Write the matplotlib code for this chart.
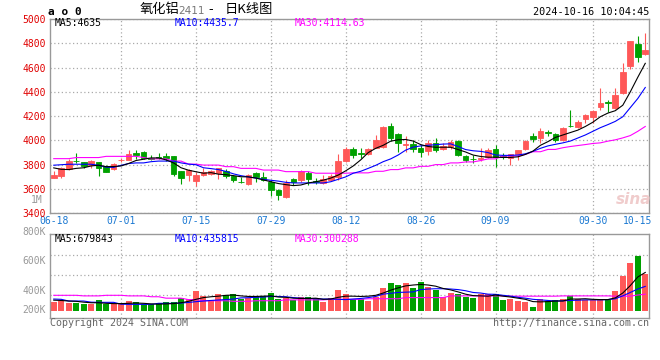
import matplotlib
matplotlib.use('Agg')
import matplotlib.pyplot as plt
import numpy as np

# ---- data (氧化铝2411 daily K) ----
dates = ['06-18', '06-19', '06-20', '06-21', '06-24', '06-25', '06-26', '06-27', '06-28',
         '07-01', '07-02', '07-03', '07-04', '07-05', '07-08', '07-09', '07-10', '07-11', '07-12',
         '07-15', '07-16', '07-17', '07-18', '07-19', '07-22', '07-23', '07-24', '07-25', '07-26',
         '07-29', '07-30', '07-31', '08-01', '08-02', '08-05', '08-06', '08-07', '08-08', '08-09',
         '08-12', '08-13', '08-14', '08-15', '08-16', '08-19', '08-20', '08-21', '08-22', '08-23',
         '08-26', '08-27', '08-28', '08-29', '08-30', '09-02', '09-03', '09-04', '09-05', '09-06',
         '09-09', '09-10', '09-11', '09-12', '09-13', '09-18', '09-19', '09-20',
         '09-23', '09-24', '09-25', '09-26', '09-27', '09-30',
         '10-08', '10-09', '10-10', '10-11', '10-14', '10-15', '10-16']

opens = [3693, 3709, 3766, 3832, 3820, 3796, 3820, 3793, 3761, 3838,
         3842, 3899, 3902, 3852, 3862, 3869, 3870, 3747, 3714, 3668,
         3717, 3725, 3733, 3747, 3709, 3660, 3641, 3731, 3702, 3660,
         3592, 3537, 3684, 3673, 3733, 3667, 3646, 3673, 3701, 3830,
         3931, 3895, 3885, 3940, 3948, 4118, 4049, 3963, 3970, 3934,
         3915, 3975, 3926, 3948, 3997, 3871, 3850, 3848, 3866, 3928,
         3870, 3852, 3887, 3926, 4038, 4022, 4068, 4052, 4003, 4120,
         4112, 4175, 4194, 4277, 4320, 4265, 4387, 4613, 4795, 4713]
highs = [3750, 3780, 3845, 3895, 3826, 3842, 3825, 3800, 3812, 3855,
         3918, 3921, 3910, 3880, 3895, 3898, 3875, 3752, 3762, 3740,
         3770, 3760, 3775, 3765, 3715, 3700, 3720, 3742, 3742, 3674,
         3600, 3674, 3692, 3760, 3747, 3690, 3714, 3727, 3891, 3945,
         3948, 3934, 3934, 4044, 4118, 4145, 4058, 4036, 4003, 3962,
         4003, 4016, 3975, 4003, 4003, 3880, 3880, 3934, 3934, 3961,
         3893, 3890, 3925, 4003, 4058, 4099, 4090, 4058, 4112, 4250,
         4167, 4215, 4250, 4428, 4333, 4428, 4637, 4822, 4862, 4884]
lows = [3687, 3687, 3760, 3815, 3769, 3777, 3709, 3738, 3755, 3825,
        3838, 3850, 3845, 3840, 3845, 3832, 3709, 3644, 3666, 3625,
        3706, 3715, 3679, 3687, 3655, 3652, 3636, 3660, 3662, 3543,
        3510, 3524, 3633, 3660, 3633, 3640, 3640, 3665, 3673, 3820,
        3857, 3852, 3880, 3935, 3940, 3997, 3907, 3907, 3907, 3866,
        3880, 3907, 3920, 3930, 3871, 3825, 3811, 3830, 3855, 3784,
        3850, 3797, 3838, 3920, 3989, 3975, 4038, 3989, 3997, 4112,
        4105, 4145, 4145, 4252, 4238, 4260, 4380, 4591, 4645, 4700]
closes = [3714, 3774, 3829, 3828, 3790, 3829, 3774, 3742, 3804, 3842,
          3891, 3878, 3852, 3848, 3858, 3855, 3722, 3693, 3758, 3714,
          3744, 3750, 3769, 3709, 3676, 3655, 3714, 3701, 3675, 3592,
          3552, 3652, 3657, 3752, 3682, 3660, 3679, 3706, 3831, 3932,
          3879, 3890, 3926, 4003, 4112, 4016, 3975, 3968, 3926, 3907,
          3975, 3921, 3956, 3989, 3880, 3838, 3846, 3852, 3920, 3866,
          3866, 3885, 3920, 3997, 4008, 4077, 4064, 4003, 4104, 4118,
          4153, 4208, 4241, 4310, 4306, 4374, 4564, 4822, 4686, 4746]

ma5 = [3774, 3762, 3760, 3770, 3775, 3790, 3796, 3784, 3785, 3790,
       3810, 3835, 3845, 3856, 3856, 3840, 3815, 3775, 3755, 3742,
       3730, 3735, 3722, 3718, 3710, 3701, 3700, 3690, 3675, 3660,
       3645, 3636, 3628, 3633, 3650, 3660, 3673, 3690, 3715, 3750,
       3790, 3840, 3900, 3935, 3960, 3994, 4005, 4008, 3995, 3966,
       3950, 3944, 3944, 3944, 3925, 3905, 3880, 3868, 3862, 3862,
       3860, 3860, 3865, 3885, 3912, 3960, 3990, 4025, 4045, 4065,
       4085, 4115, 4150, 4195, 4225, 4245, 4290, 4400, 4520, 4635]
ma10 = [3796, 3800, 3804, 3804, 3804, 3804, 3795, 3780, 3778, 3795,
        3810, 3815, 3815, 3825, 3830, 3830, 3830, 3815, 3805, 3800,
        3775, 3768, 3760, 3745, 3725, 3710, 3700, 3690, 3680, 3672,
        3665, 3655, 3650, 3650, 3650, 3650, 3650, 3660, 3680, 3700,
        3730, 3746, 3770, 3795, 3825, 3848, 3880, 3920, 3945, 3955,
        3960, 3965, 3970, 3972, 3950, 3925, 3915, 3910, 3900, 3880,
        3877, 3877, 3880, 3890, 3910, 3935, 3955, 3968, 3980, 3995,
        4020, 4045, 4075, 4105, 4130, 4157, 4195, 4270, 4345, 4436]
ma30 = [3850, 3850, 3850, 3859, 3859, 3859, 3859, 3869, 3869, 3869,
        3869, 3869, 3859, 3848, 3848, 3848, 3830, 3830, 3805, 3805,
        3797, 3797, 3797, 3784, 3784, 3770, 3770, 3770, 3756, 3756,
        3756, 3743, 3743, 3743, 3743, 3730, 3730, 3730, 3730, 3730,
        3733, 3733, 3733, 3746, 3746, 3760, 3760, 3774, 3774, 3787,
        3787, 3801, 3801, 3815, 3815, 3823, 3823, 3834, 3848, 3848,
        3872, 3872, 3872, 3885, 3907, 3907, 3926, 3926, 3940, 3950,
        3958, 3966, 3975, 3980, 3994, 4005, 4021, 4040, 4075, 4115]

# volume in thousands
volume = [157, 180, 146, 152, 134, 128, 192, 128, 128, 122,
          180, 163, 122, 122, 140, 163, 163, 233, 215, 355,
          268, 192, 303, 285, 303, 215, 239, 268, 268, 320,
          215, 239, 192, 250, 250, 227, 163, 227, 373, 303,
          215, 215, 186, 256, 413, 501, 460, 501, 413, 518,
          431, 373, 256, 315, 303, 256, 239, 309, 309, 303,
          198, 215, 180, 169, 75, 210, 180, 200, 215, 270,
          215, 200, 200, 210, 200, 360, 620, 840, 960, 650]
vma5 = [195, 190, 180, 175, 160, 150, 150, 140, 135, 135,
        140, 145, 140, 130, 125, 130, 135, 150, 175, 210,
        240, 255, 265, 280, 285, 270, 260, 260, 265, 270,
        250, 245, 230, 225, 225, 230, 210, 215, 245, 265,
        265, 260, 265, 280, 320, 370, 410, 445, 460, 470,
        460, 440, 400, 375, 340, 300, 275, 270, 265, 285,
        265, 250, 230, 210, 170, 165, 170, 180, 180, 215,
        215, 220, 210, 205, 205, 235, 320, 450, 600, 680]
vma10 = [215, 210, 180, 180, 180, 160, 157, 157, 157, 125,
         122, 122, 122, 122, 140, 140, 140, 145, 155, 169,
         180, 190, 198, 205, 215, 235, 238, 245, 250, 260,
         260, 255, 240, 230, 225, 220, 215, 215, 210, 205,
         215, 225, 240, 260, 300, 315, 330, 335, 340, 380,
         390, 395, 395, 390, 380, 360, 330, 320, 300, 297,
         280, 265, 245, 230, 210, 200, 190, 180, 185, 190,
         195, 200, 200, 200, 205, 220, 270, 330, 390, 436]
vma30 = [280, 280, 280, 280, 270, 270, 270, 280, 280, 280,
         270, 270, 270, 255, 255, 230, 230, 230, 205, 205,
         185, 185, 185, 185, 175, 175, 175, 185, 185, 185,
         185, 200, 200, 200, 200, 200, 200, 210, 210, 210,
         210, 210, 220, 220, 220, 220, 220, 240, 240, 240,
         240, 240, 240, 270, 270, 270, 270, 270, 270, 270,
         270, 265, 265, 265, 265, 265, 265, 265, 270, 270,
         270, 270, 270, 270, 270, 265, 265, 265, 285, 300]

grid_dates = ['07-01', '07-15', '07-29', '08-12', '08-26', '09-09', '09-30']
edge_dates = ['06-18', '10-15']
price_ticks = [3400, 3600, 3800, 4000, 4200, 4400, 4600, 4800, 5000]
vol_labels = ['800K', '600K', '400K', '200K']
vol_label_y = [1393, 886, 361, 23]     # where sina prints them (K)
vol_grid = [285, 635, 985]

RED = '#ff5858'
GREEN = '#00a000'
BLUE_TXT = '#1a78d2'
GRAY = '#999999'
MONO = 'DejaVu Sans Mono'

x = np.arange(len(dates))
o = np.array(opens); c = np.array(closes)
colors = np.where(c >= o, RED, GREEN)

fig = plt.figure(figsize=(6.6, 3.6), dpi=100)
W, H = 660, 360
ax = fig.add_axes([50 / W, 1 - 213.3 / H, 599 / W, 194.3 / H])
axv = fig.add_axes([50 / W, 1 - 318.3 / H, 599 / W, 84 / H])

for a in (ax, axv):
    for s in a.spines.values():
        s.set_color(GRAY)
        s.set_linewidth(1)
    a.set_xlim(-0.5, len(dates) - 0.5)
    a.set_xticks([dates.index(d) for d in grid_dates])
    a.set_xticks([dates.index(d) for d in edge_dates], minor=True)
    a.grid(axis='x', which='major', color='#aaaaaa', linestyle=(0, (1, 2)), lw=0.9)
    a.grid(axis='y', color='#aaaaaa', linestyle=(0, (1, 2)), lw=0.9)
    a.tick_params(which='both', length=0)
    a.set_axisbelow(True)

# ---- candles ----
ax.vlines(x, lows, highs, color=colors, lw=0.8, zorder=2)
ax.bar(x, np.abs(c - o), bottom=np.minimum(o, c), width=0.75, color=colors,
       edgecolor=colors, linewidth=0.6, zorder=3)
ax.plot(x, ma30, color='#ff00ff', lw=0.8, zorder=4)
ax.plot(x, ma10, color='#0000ff', lw=0.8, zorder=4)
ax.plot(x, ma5, color='black', lw=0.8, zorder=4)

ax.set_ylim(3400, 5000)
ax.set_yticks(price_ticks)
ax.set_yticklabels([str(v) for v in price_ticks])
ax.tick_params(axis='y', labelcolor='#e00000', labelsize=7, pad=3)
ax.set_xticklabels(grid_dates)
ax.set_xticklabels(edge_dates, minor=True)
ax.tick_params(axis='x', which='both', labelcolor=BLUE_TXT, labelsize=7, pad=2)
for t in ax.get_xticklabels(which='both') + ax.get_yticklabels():
    t.set_family(MONO)
ax.text(-0.012, 3510, '1M', transform=ax.get_yaxis_transform(), ha='right', va='center',
        color=GRAY, fontsize=7, family=MONO)
ax.text(634, 160, 'sina', transform=None, ha='center', va='center', fontsize=11,
        color='#f0cccc', fontweight='bold', style='italic')

# ---- volume ----
axv.bar(x, volume, width=0.8, color=colors, zorder=2)
axv.plot(x, vma30, color='#ff00ff', lw=0.8, zorder=3)
axv.plot(x, vma10, color='#0000ff', lw=0.8, zorder=3)
axv.plot(x, vma5, color='black', lw=0.8, zorder=3)
axv.set_ylim(-122, 1347)
axv.set_yticks(vol_grid)
axv.set_yticklabels([])
axv.set_xticklabels([])
axv.set_xticklabels([], minor=True)
for lab, yv in zip(vol_labels, vol_label_y):
    axv.annotate(lab, xy=(0, yv), xycoords=('axes fraction', 'data'), xytext=(-3, 0),
                 textcoords='offset points', ha='right', va='center', color=GRAY,
                 fontsize=7, family=MONO, annotation_clip=False)

# ---- header / legend texts ----
def ftext(px, py, s, **kw):
    kw.setdefault('family', MONO)
    kw.setdefault('fontsize', 7)
    kw.setdefault('va', 'center')
    return fig.text(px / W, 1 - py / H, s, **kw)

cjk = ['Noto Sans CJK SC', 'DejaVu Sans']
ftext(48, 12, 'a o 0', fontweight='bold', fontsize=8)
ftext(140, 10, '氧化铝', family=cjk, fontsize=9.5)
ftext(178, 11, '2411', family='DejaVu Sans', fontsize=7.5, color='#777777')
ftext(208, 10, '-', family=cjk, fontsize=9.5)
ftext(225, 10, '日K线图', family=cjk, fontsize=9.5)
ftext(649, 12, '2024-10-16 10:04:45', ha='right', fontsize=7.3)

ftext(55, 23.5, 'MA5:4635', color='black')
ftext(175, 23.5, 'MA10:4435.7', color='#0000ff')
ftext(295, 23.5, 'MA30:4114.63', color='#ff00ff')
ftext(55, 238.5, 'MA5:679843', color='black')
ftext(175, 238.5, 'MA10:435815', color='#0000ff')
ftext(295, 238.5, 'MA30:300288', color='#ff00ff')

ftext(50, 323, 'Copyright 2024 SINA.COM', color='#666666', fontsize=7.2)
ftext(649, 323, 'http://finance.sina.com.cn', color='#666666', fontsize=7.2, ha='right')

fig.savefig('out.png', dpi=100)
